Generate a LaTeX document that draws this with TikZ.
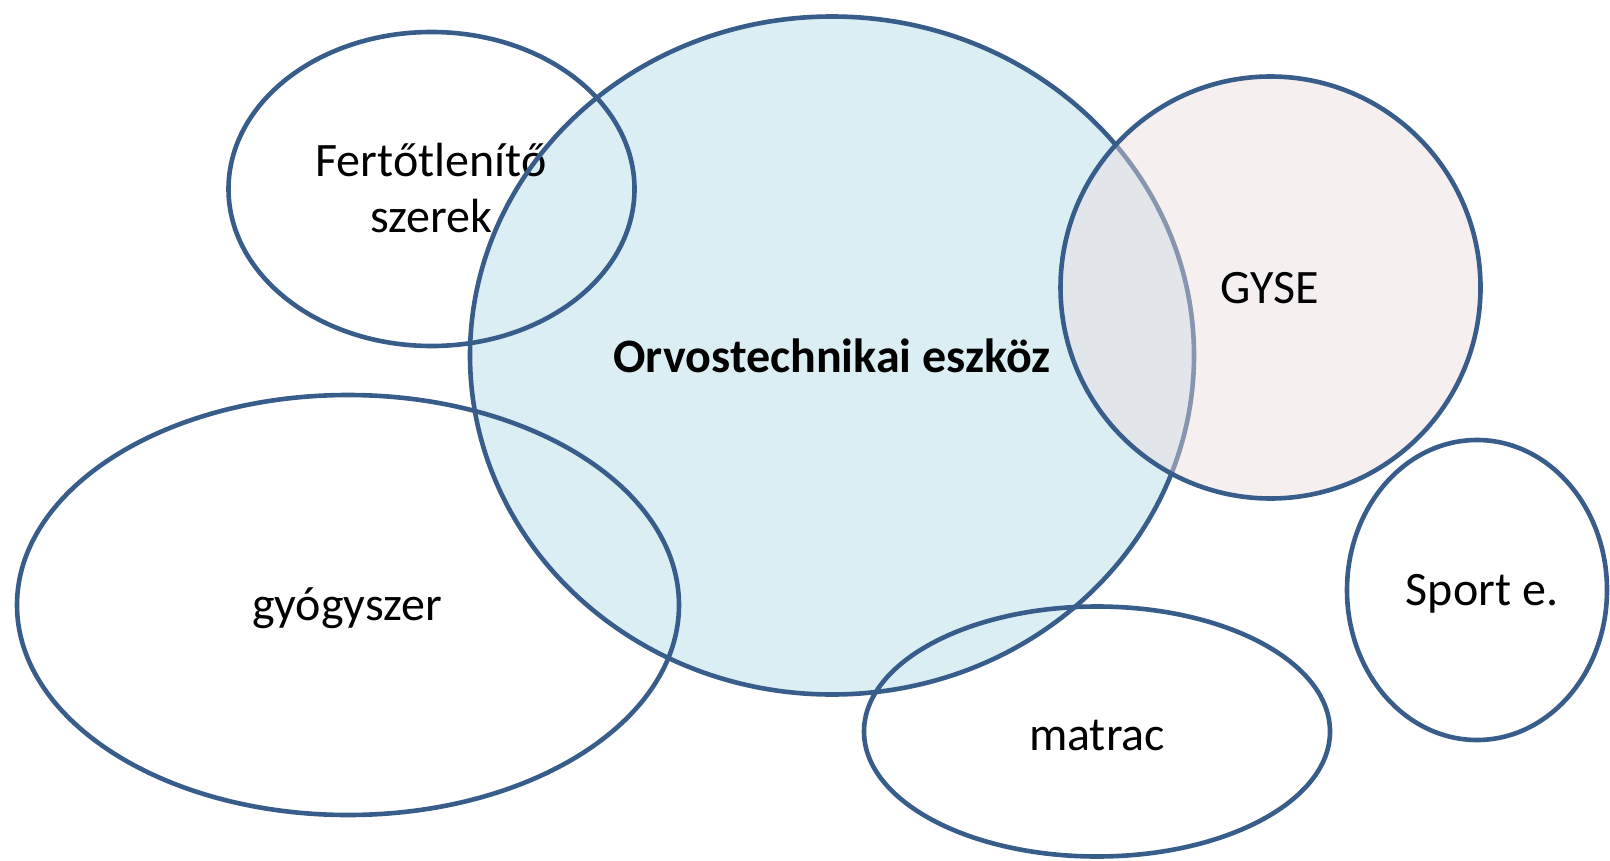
\documentclass[tikz,border=0pt]{standalone}
\usepackage{fontspec}
\setmainfont{Carlito}
\usetikzlibrary{shapes.geometric}
\definecolor{edge}{HTML}{385D8A}
\definecolor{bluefill}{HTML}{DBEEF4}
\definecolor{pinkfill}{HTML}{EBDBDD}
\begin{document}
\begin{tikzpicture}[x=0.5pt,y=-0.5pt,
  blob/.style={ellipse, inner sep=0pt, outer sep=0pt, draw=edge, line width=2.3pt},
  blobfill/.style={ellipse, inner sep=0pt, outer sep=0pt},
  lbl/.style={anchor=base, font=\fontsize{24}{29}\selectfont, inner sep=0pt, text=black}]
\useasboundingbox (0,0) rectangle (1610,861);
% big circle fill
\node[blobfill, fill=bluefill, minimum width=362pt, minimum height=339pt] (orvfill) at (832,355.5) {};
% other outlines
\node[blob, minimum width=203pt, minimum height=157pt] (fert) at (431.5,189) {};
\node[blob, minimum width=331pt, minimum height=210pt] (gyogy) at (348,605) {};
\node[blob, minimum width=233pt, minimum height=125pt] (matrac) at (1097,731.5) {};
\node[blob, minimum width=130pt, minimum height=150pt] (sport) at (1477,590) {};
% labels
\node[lbl] (tfert1) at (431,177) {Fertőtlenítő};
\node[lbl] (tfert2) at (431,233) {szerek};
\node[lbl] (tgyogy) at (347,620) {gyógyszer};
\node[lbl] (tmatrac) at (1097,750) {matrac};
\node[lbl] (tsport) at (1482,605) {Sport e.};
\node[lbl, font=\fontsize{24}{29}\selectfont\bfseries] (torv) at (832,372) {Orvostechnikai eszköz};
% big circle outline
\node[blob, minimum width=362pt, minimum height=339pt] (orv) at (orvfill.center) {};
% GYSE
\node[blob, fill=pinkfill, fill opacity=0.45, minimum width=210pt, minimum height=211pt] (gyse) at (1270.5,287.5) {};
\node[lbl] (tgyse) at (1270,303) {GYSE};
\end{tikzpicture}
\end{document}
